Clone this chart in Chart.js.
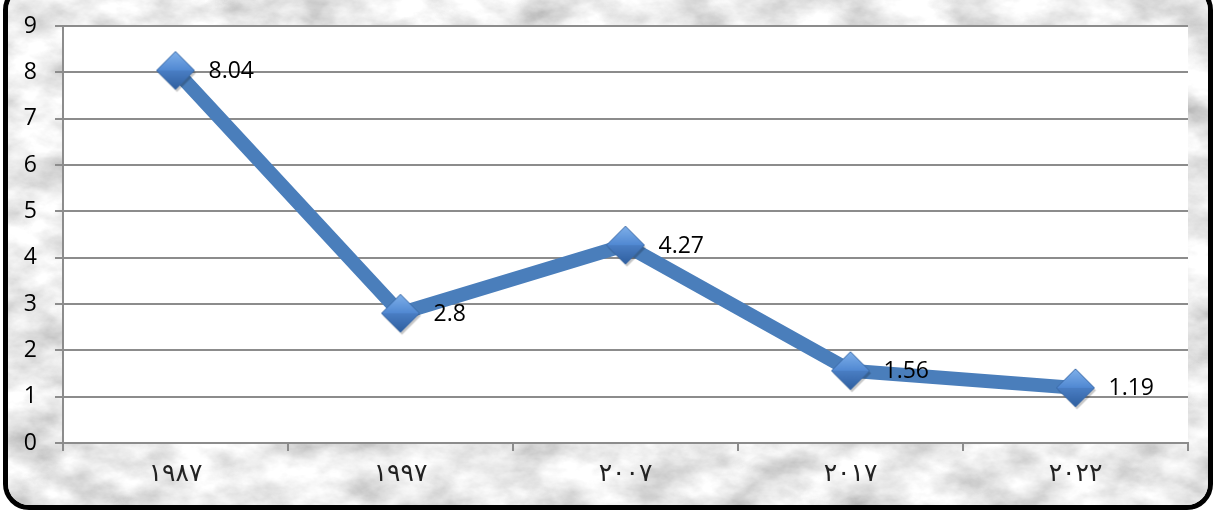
<!DOCTYPE html>
<html>
<head>
<meta charset="utf-8">
<script src="https://cdn.jsdelivr.net/npm/chart.js@4.4.0/dist/chart.umd.min.js"></script>
<style>
  html, body { margin: 0; padding: 0; width: 1213px; height: 512px; overflow: hidden; background: #fff; }
  #frame {
    position: absolute; left: 3px; top: -16px; width: 1210px; height: 526px;
    box-sizing: border-box; border: 5px solid #000; border-radius: 26px;
    overflow: hidden; background: #dedede;
  }
  #frame svg { display: block; }
  #chart { position: absolute; left: 0; top: 0; }
</style>
</head>
<body>
<div id="frame">
  <!-- grey marble texture behind the chart -->
  <svg width="1200" height="516" xmlns="http://www.w3.org/2000/svg">
    <filter id="marble" x="0" y="0" width="100%" height="100%">
      <feTurbulence type="fractalNoise" baseFrequency="0.018 0.03" numOctaves="5" seed="7"/>
      <feColorMatrix type="matrix"
        values="0.85 0 0 0 0.4
                0.85 0 0 0 0.4
                0.85 0 0 0 0.4
                0 0 0 0 1"/>
    </filter>
    <rect width="1200" height="516" filter="url(#marble)"/>
  </svg>
</div>
<canvas id="chart" width="1213" height="512"></canvas>
<script>
// years on the category axis, Arabic-Indic digits
const years = ["١٩٨٧", "١٩٩٧", "٢٠٠٧", "٢٠١٧", "٢٠٢٢"];
const values = [8.04, 2.8, 4.27, 1.56, 1.19];
const yMin = 0;
const yMax = 9;
const yStep = 1;

const gridGray = "#8c8c8c";

// bevelled blue diamond used as the point marker
function makeDiamond(size) {
    const pad = 4;
    const c = document.createElement("canvas");
    c.width = c.height = size + pad * 2;
    const g = c.getContext("2d");
    const m = c.width / 2, h = size / 2;

    // soft shadow
    g.fillStyle = "rgba(0,0,0,0.22)";
    g.beginPath();
    g.moveTo(m + 1.5, m - h + 2.5); g.lineTo(m + h + 1.5, m + 2.5);
    g.lineTo(m + 1.5, m + h + 2.5); g.lineTo(m - h + 1.5, m + 2.5);
    g.closePath(); g.fill();

    // upper half, lighter
    let gr = g.createLinearGradient(0, m - h, 0, m);
    gr.addColorStop(0, "#7fb0ea");
    gr.addColorStop(1, "#5088d2");
    g.fillStyle = gr;
    g.beginPath();
    g.moveTo(m, m - h); g.lineTo(m + h, m); g.lineTo(m - h, m);
    g.closePath(); g.fill();

    // lower half, darker
    gr = g.createLinearGradient(0, m, 0, m + h);
    gr.addColorStop(0, "#4a7ec4");
    gr.addColorStop(1, "#2f5f9f");
    g.fillStyle = gr;
    g.beginPath();
    g.moveTo(m - h, m); g.lineTo(m + h, m); g.lineTo(m, m + h);
    g.closePath(); g.fill();

    g.strokeStyle = "#3a69a6";
    g.lineWidth = 1;
    g.beginPath();
    g.moveTo(m, m - h); g.lineTo(m + h, m); g.lineTo(m, m + h); g.lineTo(m - h, m);
    g.closePath(); g.stroke();
    return c;
}

const diamond = makeDiamond(38);

// white plot area behind the grid
const plotBackground = {
    id: "plotBackground",
    beforeDraw(chart) {
        const { ctx, chartArea: a } = chart;
        ctx.save();
        ctx.fillStyle = "#ffffff";
        ctx.fillRect(a.left, a.top, a.right - a.left, a.bottom - a.top);
        ctx.restore();
    }
};

// value labels to the right of each point
const valueLabels = {
    id: "valueLabels",
    afterDatasetsDraw(chart) {
        const ctx = chart.ctx;
        const meta = chart.getDatasetMeta(0);
        ctx.save();
        ctx.font = "23px 'Open Sans'";
        ctx.fillStyle = "#000";
        ctx.textAlign = "left";
        ctx.textBaseline = "middle";
        meta.data.forEach((pt, i) => {
            ctx.fillText(String(values[i]), pt.x + 33, pt.y + 1);
        });
        ctx.restore();
    }
};

new Chart(document.getElementById("chart").getContext("2d"), {
    type: "line",
    data: {
        labels: years,
        datasets: [{
            data: values,
            borderColor: "#4a7ebb",
            borderWidth: 14,
            borderCapStyle: "round",
            borderJoinStyle: "round",
            tension: 0,
            clip: false,
            pointStyle: diamond,
            pointRadius: 18,
            pointHoverRadius: 18
        }]
    },
    options: {
        responsive: false,
        animation: false,
        events: [],
        layout: {
            autoPadding: false,
            padding: { top: 26, right: 25, left: 0, bottom: 0 }
        },
        plugins: { legend: { display: false }, tooltip: { enabled: false } },
        scales: {
            x: {
                offset: true,
                afterFit(scale) { scale.height = 69; },
                grid: {
                    offset: true,
                    drawOnChartArea: false,
                    drawTicks: true,
                    tickLength: 8,
                    color: gridGray,
                    lineWidth: 2
                },
                border: { display: true, color: gridGray, width: 2 },
                ticks: {
                    font: { family: "'DejaVu Sans'", size: 25 },
                    color: "#222",
                    padding: 8,
                    maxRotation: 0
                }
            },
            y: {
                min: yMin,
                max: yMax,
                afterFit(scale) {
                    scale.width = 63;
                    scale.paddingTop = 0;
                    scale.paddingBottom = 0;
                },
                grid: {
                    color: gridGray,
                    lineWidth: 2,
                    tickLength: 8
                },
                border: { display: true, color: gridGray, width: 2 },
                ticks: {
                    stepSize: yStep,
                    font: { family: "'Open Sans'", size: 23 },
                    color: "#000",
                    padding: 18
                }
            }
        }
    },
    plugins: [plotBackground, valueLabels]
});
</script>
</body>
</html>
